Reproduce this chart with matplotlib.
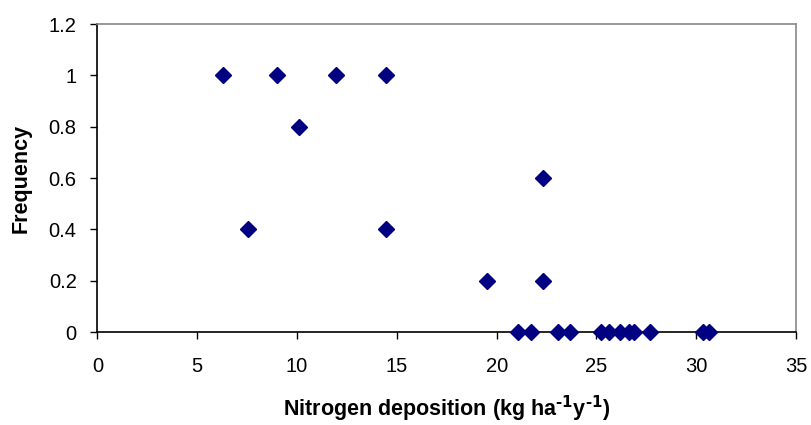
import numpy as np
import matplotlib
matplotlib.use("Agg")
import matplotlib.pyplot as plt

plt.rcParams["font.family"] = ["Liberation Sans", "DejaVu Sans"]

# 氮沉降 vs 频率
deposition = [6.3, 9.0, 11.95, 14.45, 10.1, 7.55, 14.45, 19.5, 22.3, 22.3,
              21.05, 21.7, 23.05, 23.7, 25.25, 25.65, 26.2, 26.65, 26.9, 27.7,
              30.35, 30.65]
frequency = [1, 1, 1, 1, 0.8, 0.4, 0.4, 0.2, 0.6, 0.2,
             0, 0, 0, 0, 0, 0, 0, 0, 0, 0,
             0, 0]
x_ticks = [0, 5, 10, 15, 20, 25, 30, 35]
y_ticks = [0, 0.2, 0.4, 0.6, 0.8, 1, 1.2]
y_labels = ["0", "0.2", "0.4", "0.6", "0.8", "1", "1.2"]

fig = plt.figure(figsize=(8.11, 4.25), dpi=100)
ax = fig.add_axes([0.1202, 0.2188, 0.8613, 0.7247])

ax.plot(deposition, frequency, linestyle="none", marker="D",
        markersize=8.5, color="#000080", clip_on=False, zorder=3)

ax.set_xlim(0, 35)
ax.set_ylim(0, 1.2)
ax.set_xticks(x_ticks)
ax.set_yticks(y_ticks)
ax.set_yticklabels(y_labels)
ax.tick_params(direction="out", length=5, width=1, labelsize=14.5)
ax.tick_params(axis="x", pad=13)
ax.tick_params(axis="y", pad=10)

for side in ["left", "bottom"]:
    ax.spines[side].set_color("black")
    ax.spines[side].set_linewidth(1.2)
for side in ["top", "right"]:
    ax.spines[side].set_color("#888888")
    ax.spines[side].set_linewidth(1.2)

ax.set_xlabel("Nitrogen deposition (kg ha$^{\\mathbf{\u2010}\\mathbf{1}}$y$^{\\mathbf{\u2010}\\mathbf{1}}$)",
              fontsize=15.5, fontweight="bold", labelpad=13)
ax.set_ylabel("Frequency", fontsize=15.5, fontweight="bold", labelpad=12)

fig.savefig("out.png", dpi=100)
